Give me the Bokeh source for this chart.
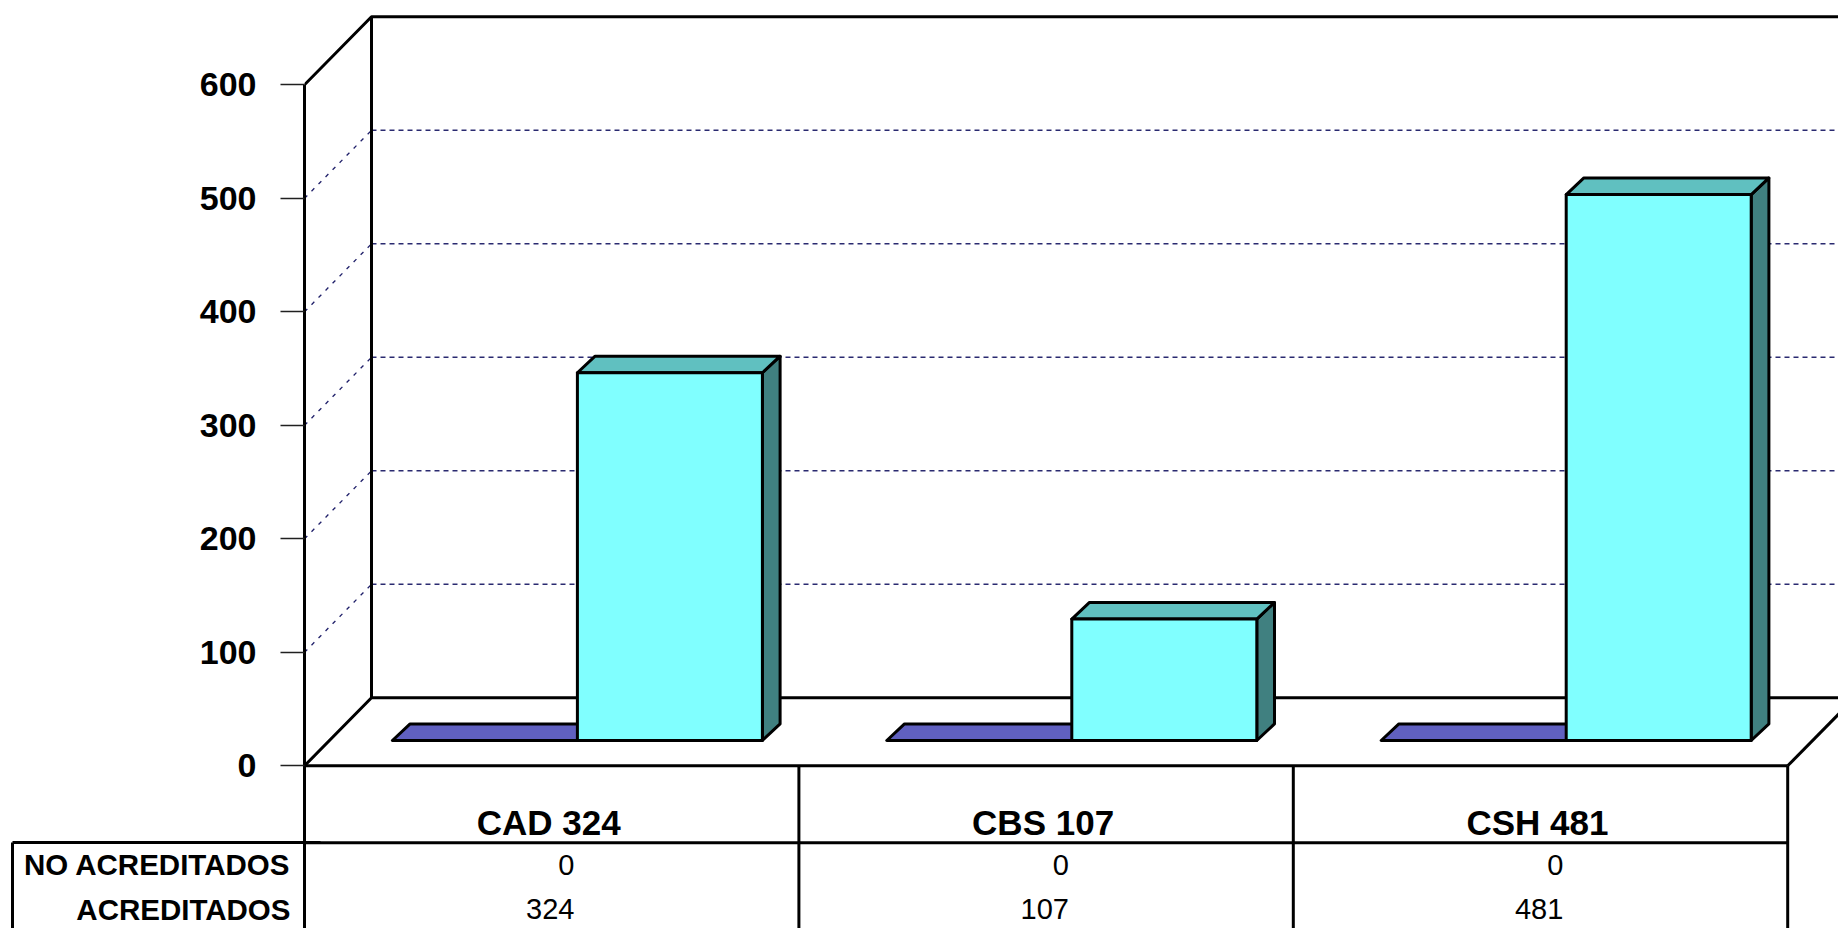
from bokeh.plotting import figure
from bokeh.embed import file_html
from bokeh.resources import INLINE
from bokeh.models import Range1d, LinearAxis, FixedTicker
from bokeh.core.properties import value

categories = ["CAD 324", "CBS 107", "CSH 481"]
no_acreditados = [0, 0, 0]
acreditados = [324, 107, 481]
row_names = ["NO ACREDITADOS", "ACREDITADOS"]
ticks = [0, 100, 200, 300, 400, 500, 600]
grid_values = [100, 200, 300, 400, 500]

FONT = "Liberation Sans"
BLACK = "#000000"
LW = 3

FRAME_L, FRAME_W, FRAME_H = 304, 1534, 928
PX_X, PX_Y = 494.4, 1.135          # pixels per category, pixels per value unit
ZERO_FROM_TOP = 765.3              # value 0, measured from the top of the frame

x0 = lambda px: px / PX_X
y0 = lambda px: px / PX_Y

p = figure(width=FRAME_L + FRAME_W, height=FRAME_H, output_backend="svg", toolbar_location=None,
           x_range=Range1d(0, FRAME_W / PX_X),
           y_range=Range1d(-(FRAME_H - ZERO_FROM_TOP) / PX_Y, ZERO_FROM_TOP / PX_Y),
           x_axis_location=None, y_axis_location=None,
           min_border_left=FRAME_L, min_border_right=0, min_border_top=0, min_border_bottom=0,
           outline_line_color=None, background_fill_color="white", border_fill_color="white")
p.grid.visible = False

WALL_DX, WALL_DY = x0(67.0), y0(68.0)
BOTTOM = p.y_range.start
RIGHT = len(categories)
ROW_LINE = round(-(842.3 - ZERO_FROM_TOP) / PX_Y, 1)

axis = LinearAxis(ticker=FixedTicker(ticks=ticks), bounds=(BOTTOM, ticks[-1]))
axis.axis_line_color = BLACK
axis.axis_line_width = LW
axis.major_tick_line_color = "#202020"
axis.major_tick_line_width = 1.5
axis.major_tick_in = 0
axis.major_tick_out = 24
axis.minor_tick_line_color = None
axis.major_label_standoff = 24
axis.major_label_text_font = FONT
axis.major_label_text_font_style = "bold"
axis.major_label_text_font_size = "34px"
axis.major_label_text_color = BLACK
p.add_layout(axis, "left")

# row titles of the data table: a second left axis whose labels reach back under the first
row_y = [round(-(864.3 - ZERO_FROM_TOP) / PX_Y, 1), round(-(908.8 - ZERO_FROM_TOP) / PX_Y, 1)]
row_axis = LinearAxis(ticker=FixedTicker(ticks=row_y),
                      major_label_overrides=dict(zip(row_y, row_names)))
row_axis.axis_line_color = None
row_axis.major_tick_line_color = None
row_axis.minor_tick_line_color = None
row_axis.major_tick_in = 0
row_axis.major_tick_out = 0
row_axis.major_label_standoff = -94
row_axis.major_label_text_font = FONT
row_axis.major_label_text_font_style = "bold"
row_axis.major_label_text_font_size = "29.5px"
row_axis.major_label_text_color = BLACK
p.add_layout(row_axis, "left")

# top rule of the row-title cell: one long tick of a third axis
rule_axis = LinearAxis(ticker=FixedTicker(ticks=[ROW_LINE]), major_label_overrides={ROW_LINE: ""})
rule_axis.axis_line_color = None
rule_axis.minor_tick_line_color = None
rule_axis.major_tick_line_color = BLACK
rule_axis.major_tick_line_width = LW
rule_axis.major_tick_out = 8
rule_axis.major_tick_in = 300
rule_axis.major_label_standoff = 0
rule_axis.major_label_text_font_size = "1px"
p.add_layout(rule_axis, "left")

# left edge of the row-title cell: the line of a fourth axis
edge_axis = LinearAxis(ticker=FixedTicker(ticks=[ROW_LINE]), major_label_overrides={ROW_LINE: ""},
                       bounds=(BOTTOM, ROW_LINE))
edge_axis.axis_line_color = BLACK
edge_axis.axis_line_width = LW
edge_axis.major_tick_line_color = None
edge_axis.minor_tick_line_color = None
edge_axis.major_tick_in = 0
edge_axis.major_tick_out = 0
edge_axis.major_label_standoff = 0
edge_axis.major_label_text_font_size = "1px"
p.add_layout(edge_axis, "left")

top = ticks[-1]
# diagonal grid lines on the left wall, dashed grid lines on the back wall
p.segment([0] * len(grid_values), grid_values, [WALL_DX] * len(grid_values),
          [v + WALL_DY for v in grid_values], line_color="#20206a", line_width=1.3, line_dash="4 6")
p.segment([WALL_DX] * len(grid_values), [v + WALL_DY for v in grid_values],
          [RIGHT + WALL_DX] * len(grid_values), [v + WALL_DY for v in grid_values],
          line_color="#2a2a70", line_width=1.6, line_dash="5 4")

# walls and floor
p.line([0, WALL_DX, RIGHT + 2 * WALL_DX], [top, top + WALL_DY, top + WALL_DY], line_color=BLACK, line_width=LW)
p.line([WALL_DX, WALL_DX], [WALL_DY, top + WALL_DY], line_color=BLACK, line_width=LW)
p.line([0, WALL_DX, RIGHT + 2 * WALL_DX], [0, WALL_DY, WALL_DY], line_color=BLACK, line_width=LW)
p.line([RIGHT, RIGHT + WALL_DX], [0, WALL_DY], line_color=BLACK, line_width=LW)

# data table lines
p.line([0, RIGHT], [0, 0], line_color=BLACK, line_width=LW)
p.line([0, RIGHT], [ROW_LINE, ROW_LINE], line_color=BLACK, line_width=LW)
for i in range(1, RIGHT + 1):
    p.line([i, i], [0, BOTTOM], line_color=BLACK, line_width=LW)

# 3D bars: floor position, width and depth
BASE = y0(25.3)
BAR_L, BAR_W = x0(87.9), x0(185.0)
BAR_DX, BAR_DY = x0(17.7), y0(16.6)


def bar3d(i, slot, v, front, top_c, side):
    l = i + BAR_L + slot * BAR_W
    r = l + BAR_W
    b = BASE
    t = BASE + v
    if v > 0:
        p.patch([r, r + BAR_DX, r + BAR_DX, r], [b, b + BAR_DY, t + BAR_DY, t],
                fill_color=side, line_color=BLACK, line_width=LW, line_join="round")
    p.patch([l, r, r + BAR_DX, l + BAR_DX], [t, t, t + BAR_DY, t + BAR_DY],
            fill_color=top_c, line_color=BLACK, line_width=LW, line_join="round")
    if v > 0:
        p.patch([l, r, r, l], [b, b, t, t], fill_color=front, line_color=BLACK, line_width=LW, line_join="round")


for i in range(len(categories)):
    bar3d(i, 0, no_acreditados[i], "#6060C0", "#6060C0", "#404080")
for i in range(len(categories)):
    bar3d(i, 1, acreditados[i], "#80FFFF", "#60C0C0", "#408080")

# data table texts
cat_x = [i + 0.5 - x0(3) for i in range(len(categories))]
p.text(cat_x, [-y0(822 - 765.3)] * 3, text=categories, text_font=value(FONT), text_font_style="bold",
       text_font_size="35px", text_align="center", text_baseline="middle", text_color=BLACK)
VAL_R = x0(270)
for y, vals in zip(row_y, [no_acreditados, acreditados]):
    p.text([i + VAL_R for i in range(len(vals))], [y] * len(vals), text=[str(v) for v in vals],
           text_font=value(FONT), text_font_size="29px", text_align="right", text_baseline="middle",
           text_color=BLACK)

open("out.html", "w").write(file_html(p, INLINE))
